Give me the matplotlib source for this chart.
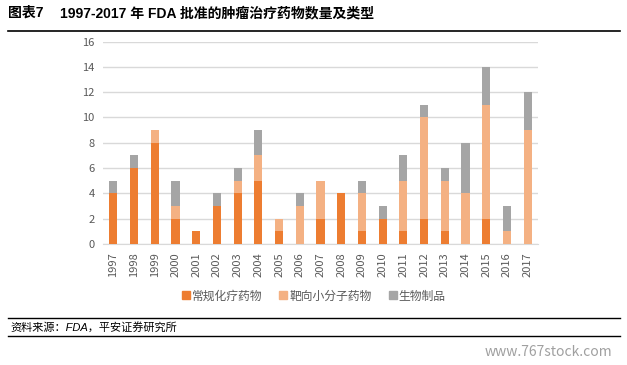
import matplotlib
matplotlib.use("Agg")
import matplotlib.pyplot as plt
from matplotlib.lines import Line2D
import numpy as np

plt.rcParams['font.family'] = ['Noto Sans CJK SC', 'DejaVu Sans']

years = [str(y) for y in range(1997, 2018)]
conventional = [4, 6, 8, 2, 1, 3, 4, 5, 1, 0, 2, 4, 1, 2, 1, 2, 1, 0, 2, 0, 0]
targeted = [0, 0, 1, 1, 0, 0, 1, 2, 1, 3, 3, 0, 3, 0, 4, 8, 4, 4, 9, 1, 9]
biologics = [1, 1, 0, 2, 0, 1, 1, 2, 0, 1, 0, 0, 1, 1, 2, 1, 1, 4, 3, 2, 3]
series_names = ['常规化疗药物', '靶向小分子药物', '生物制品']
yticks = [0, 2, 4, 6, 8, 10, 12, 14, 16]

colors = ['#ED7D31', '#F4B183', '#A5A5A5']

W, H = 627, 365
fig = plt.figure(figsize=(W / 100, H / 100), dpi=100)
ax = fig.add_axes([103 / W, 1 - 244 / H, (538 - 103) / W, (244 - 41.5) / H])

x = np.arange(len(years))
conv = np.array(conventional)
targ = np.array(targeted)
bio = np.array(biologics)
bw = 0.39
ax.bar(x, conv, bw, color=colors[0], label=series_names[0], zorder=3)
ax.bar(x, targ, bw, bottom=conv, color=colors[1], label=series_names[1], zorder=3)
ax.bar(x, bio, bw, bottom=conv + targ, color=colors[2], label=series_names[2], zorder=3)

ax.set_xlim(-0.5, len(years) - 0.5)
ax.set_ylim(0, 16)
ax.set_yticks(yticks)
ax.set_yticklabels([str(v) for v in yticks], fontsize=8, color='#595959')
ax.set_xticks(x)
ax.set_xticklabels(years, rotation=90, fontsize=8, color='#595959')
ax.tick_params(axis='both', length=0, pad=6)
ax.grid(axis='y', color='#D9D9D9', linewidth=1, zorder=0)
for s in ['top', 'right', 'left']:
    ax.spines[s].set_visible(False)
ax.spines['bottom'].set_color('#D9D9D9')

handles = [Line2D([0], [0], marker='s', color='none', markerfacecolor=c, markeredgecolor=c, markersize=6)
           for c in colors]
fig.legend(handles, series_names, loc='center', bbox_to_anchor=(314 / W, 1 - 296 / H),
           ncol=3, frameon=False, fontsize=8.5, handlelength=0.6, handletextpad=0.2,
           columnspacing=1.5, labelcolor='#595959')

title_family = ['Liberation Sans', 'Noto Sans CJK SC']
fig.text(8 / W, 1 - 13 / H, '图表7', fontsize=10, fontweight='bold', va='center', ha='left',
         family=title_family)
fig.text(60 / W, 1 - 13 / H, '1997-2017 年 FDA 批准的肿瘤治疗药物数量及类型', fontsize=10,
         fontweight='bold', va='center', ha='left', family=title_family)
fig.add_artist(Line2D([8 / W, 620 / W], [1 - 31 / H, 1 - 31 / H], color='black', linewidth=1.2))

# source
fig.add_artist(Line2D([8 / W, 620 / W], [1 - 318 / H, 1 - 318 / H], color='black', linewidth=1.0))
fig.text(10 / W, 1 - 327 / H, '资料来源：FDA，平安证券研究所', fontsize=8, style='italic',
         va='center', ha='left', family=title_family)
fig.add_artist(Line2D([8 / W, 620 / W], [1 - 336 / H, 1 - 336 / H], color='black', linewidth=1.0))

fig.text(612 / W, 1 - 352 / H, 'www.767stock.com', fontsize=10, color='#A0A0A0',
         va='center', ha='right')

fig.savefig('out.png', dpi=100)
